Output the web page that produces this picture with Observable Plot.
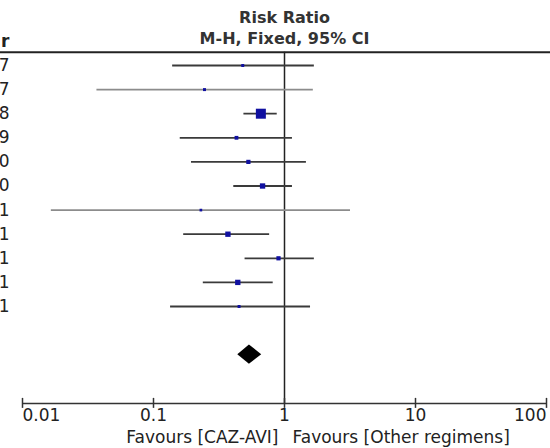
<!DOCTYPE html>
<html>
<head>
<meta charset="utf-8">
<script src="https://cdn.jsdelivr.net/npm/d3@7"></script>
<script src="https://cdn.jsdelivr.net/npm/@observablehq/plot@0.6"></script>
<style>
  html, body { margin: 0; padding: 0; background: #fff; }
  #chart svg { display: block; font-family: "DejaVu Sans", Verdana, sans-serif; }
</style>
</head>
<body>
<div id="chart"></div>
<script>
// ---- data ----
// The reference is cropped at the left: only the last glyph of the "Year" column is visible.
const years   = ["2017","2017","2018","2019","2020","2020","2021","2021","2021","2021","2021"];
const rr      = [0.48, 0.245, 0.66, 0.43, 0.53, 0.68, 0.23, 0.37, 0.90, 0.44, 0.45];
const lower   = [0.14, 0.037, 0.49, 0.16, 0.195, 0.41, 0.0166, 0.17, 0.50, 0.24, 0.135];
const upper   = [1.69, 1.66, 0.88, 1.15, 1.47, 1.15, 3.19, 0.77, 1.69, 0.82, 1.58];
const weights = [2.5, 2.5, 28, 4, 5, 8, 2, 8, 5, 8, 2.5];
const pooledRR = 0.54, pooledLower = 0.44, pooledUpper = 0.67;
const tickValues = [0.01, 0.1, 1, 10, 100];
const tickLabels = ["0.01", "0.1", "1", "10", "100"];
const titleLines = ["Risk Ratio", "M-H, Fixed, 95% CI"];
const yearHeader = "Year";
const favourLeft = "Favours [CAZ-AVI]";
const favourRight = "Favours [Other regimens]";

// ---- tables ----
const visible = s => s.slice(-1); // part of the text inside the cropped picture
const rows = years.map((yr, i) => ({i, year: visible(yr), rr: rr[i], lo: lower[i], hi: upper[i], w: weights[i]}));
const pooledRow = years.length + 1;
const headerRow = -0.55;
const axisRow = pooledRow + 2.02;
const diamond = [
  {x: pooledLower, h: 0},
  {x: pooledRR, h: 1},
  {x: pooledUpper, h: 0}
];
const ticks = tickValues.map((v, k) => ({v, label: tickLabels[k], k}));
const halfH = 0.4;
const xMin = tickValues[0], xMax = tickValues[tickValues.length - 1];

const chart = Plot.plot({
  width: 550,
  height: 448,
  margin: 0,
  style: {fontFamily: "DejaVu Sans, Verdana, sans-serif", fontSize: "17px", background: "#fff"},
  x: {type: "log", domain: [xMin, xMax], range: [22, 546], axis: null},
  y: {domain: [0, pooledRow], range: [65, 65 + 24.1 * pooledRow], axis: null},
  r: {type: "sqrt", domain: [0, d3.max(weights)], range: [0, 5.64]},
  marks: [
    // header rule
    Plot.ruleY([headerRow], {stroke: "#222", strokeWidth: 2}),
    // line of no effect
    Plot.ruleX([1], {y1: () => headerRow, y2: () => axisRow, stroke: "#222", strokeWidth: 1.5}),
    // axis line
    Plot.ruleY([axisRow], {x1: () => xMin, x2: () => xMax, stroke: "#333", strokeWidth: 1.5}),
    Plot.ruleX(ticks, {x: "v", y1: () => axisRow, y2: () => axisRow, insetTop: -5, insetBottom: -5, stroke: "#333", strokeWidth: 1.5}),
    // tick labels
    Plot.text(ticks.filter(d => d.k === 0), {x: "v", y: () => axisRow, text: "label", dy: 12, textAnchor: "start", fill: "#222"}),
    Plot.text(ticks.filter(d => d.k > 0 && d.k < ticks.length - 1), {x: "v", y: () => axisRow, text: "label", dy: 12, textAnchor: "middle", fill: "#222"}),
    Plot.text(ticks.filter(d => d.k === ticks.length - 1), {x: "v", y: () => axisRow, text: "label", dy: 12, textAnchor: "end", fill: "#222"}),
    // favours labels
    Plot.text([favourLeft], {x: () => 1, y: () => axisRow, text: d => d, dy: 34, dx: -6, textAnchor: "end", fill: "#222"}),
    Plot.text([favourRight], {x: () => 1, y: () => axisRow, text: d => d, dy: 34, dx: 8, textAnchor: "start", fill: "#222"}),
    // titles
    Plot.text([titleLines[0]], {x: () => 1, frameAnchor: "top", lineAnchor: "middle", text: d => d, dy: 17.5, fontSize: 16, fontWeight: "bold", fill: "#333"}),
    Plot.text([titleLines[1]], {x: () => 1, frameAnchor: "top", lineAnchor: "middle", text: d => d, dy: 38.5, fontSize: 16, fontWeight: "bold", fill: "#333"}),
    Plot.text([visible(yearHeader)], {frameAnchor: "top-left", lineAnchor: "middle", text: d => d, dx: 9, dy: 41, textAnchor: "end", fontWeight: "bold", fill: "#222"}),
    // year labels
    Plot.text(rows, {y: "i", text: "year", frameAnchor: "left", dx: 9, textAnchor: "end", fill: "#222"}),
    // confidence intervals
    Plot.ruleY(rows, {y: "i", x1: "lo", x2: "hi", stroke: d => (d.hi / d.lo > 30 ? "#8c8c8c" : "#3a3a3a"), strokeWidth: 1.8}),
    // study estimates
    Plot.dot(rows, {x: "rr", y: "i", r: "w", symbol: "square", fill: "#1010a0", stroke: "none"}),
    // pooled diamond
    Plot.areaY(diamond, {x: "x", y1: d => pooledRow - halfH * d.h, y2: d => pooledRow + halfH * d.h, fill: "#000", curve: "linear"})
  ]
});
document.getElementById("chart").appendChild(chart);
</script>
</body>
</html>
